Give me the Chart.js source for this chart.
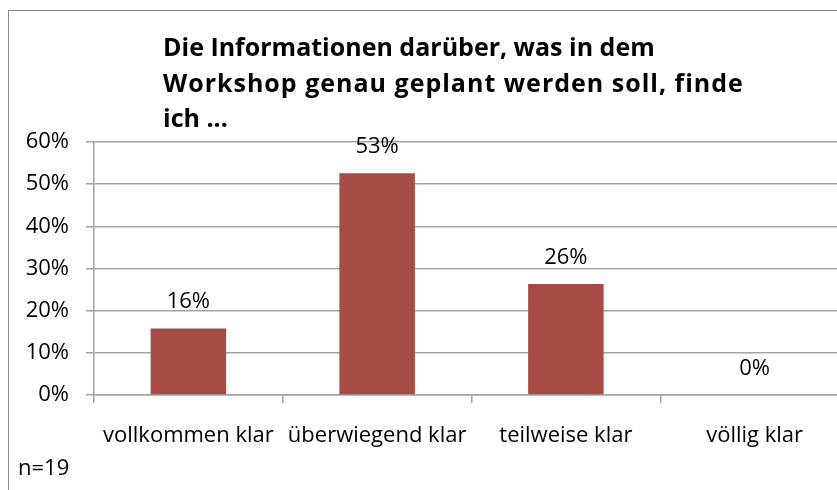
<!DOCTYPE html>
<html>
<head>
<meta charset="utf-8">
<script src="https://cdn.jsdelivr.net/npm/chart.js@4/dist/chart.umd.min.js"></script>
<style>
  html, body { margin: 0; padding: 0; background: #fff; overflow: hidden; }
  body { width: 837px; height: 490px; position: relative; }
  .frame { position: absolute; left: 8px; top: 10px; width: 900px; height: 600px; border: 1.5px solid #8c8c8c; }
  .wrap { position: absolute; left: 0; top: 0; width: 860px; height: 490px; }
  .title { position: absolute; left: 163px; top: 29px; font: bold 25px "Open Sans", sans-serif; line-height: 35.5px; color: #000; white-space: nowrap; }
  .title .wide { letter-spacing: 1px; }
  .note { position: absolute; left: 18px; top: 451px; font: 22px "Open Sans", sans-serif; color: #000; }
</style>
</head>
<body>
<div class="frame"></div>
<div class="wrap"><canvas id="chart"></canvas></div>
<div class="title">Die Informationen darüber, was in dem<br><span class="wide">Workshop genau geplant werden soll, finde</span><br>ich ...</div>
<div class="note">n=19</div>
<script>
const categories = ["vollkommen klar", "überwiegend klar", "teilweise klar", "völlig klar"];
const shares = [15.8, 52.6, 26.3, 0];
const yTickLabels = ["0%", "10%", "20%", "30%", "40%", "50%", "60%"];

const FONT = "'Open Sans', sans-serif";
const GRID = "#a3a3a3";

// --- data labels above bars ---
const barLabels = {
  id: "barLabels",
  afterDatasetsDraw(chart) {
    const ctx = chart.ctx;
    const meta = chart.getDatasetMeta(0);
    ctx.save();
    ctx.font = "22px " + FONT;
    ctx.fillStyle = "#000";
    ctx.textAlign = "center";
    ctx.textBaseline = "alphabetic";
    meta.data.forEach((bar, i) => {
      ctx.fillText(Math.round(shares[i]) + "%", bar.x, bar.y - 20);
    });
    ctx.restore();
  },
};

new Chart(document.getElementById("chart"), {
  type: "bar",
  data: {
    labels: categories,
    datasets: [
      {
        data: shares,
        backgroundColor: "#a64b45",
        borderWidth: 0,
        barPercentage: 0.4,
        categoryPercentage: 1,
      },
    ],
  },
  options: {
    responsive: true,
    maintainAspectRatio: false,
    animation: false,
    layout: { padding: { top: 142, right: 11, bottom: 0, left: 0 } },
    plugins: {
      legend: { display: false },
      tooltip: { enabled: false },
    },
    scales: {
      x: {
        offset: true,
        afterFit: (scale) => { scale.height = 95; },
        grid: { offset: true, drawOnChartArea: false, drawTicks: true, tickLength: 8, color: GRID, lineWidth: 1.5 },
        border: { color: GRID, width: 1.5 },
        ticks: {
          color: "#000",
          font: { family: FONT, size: 22 },
          padding: 20,
          autoSkip: false,
          minRotation: 0,
          maxRotation: 0,
        },
      },
      y: {
        min: 0,
        max: 60,
        afterFit: (scale) => { scale.width = 94; },
        grid: { color: GRID, lineWidth: 1.5, tickLength: 8 },
        border: { color: GRID, width: 1.5 },
        ticks: {
          stepSize: 10,
          color: "#000",
          font: { family: FONT, size: 22 },
          padding: 17,
          callback: (v, i) => yTickLabels[i],
        },
      },
    },
  },
  plugins: [barLabels],
});
</script>
</body>
</html>
